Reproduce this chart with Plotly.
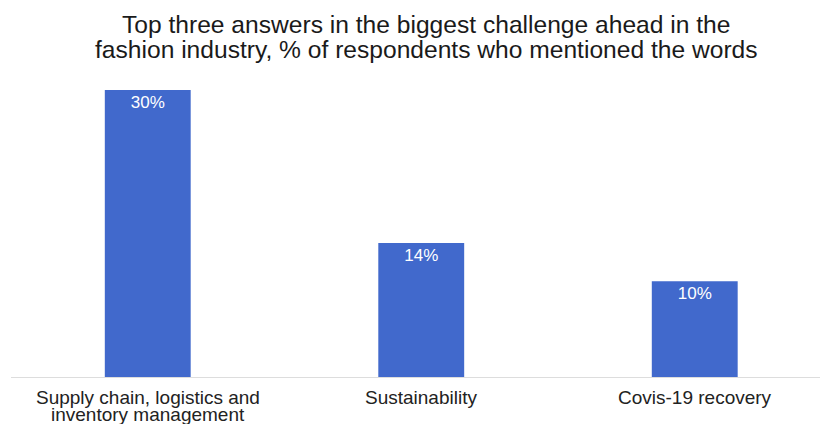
import plotly.graph_objects as go

categories = ["Supply chain, logistics and<br>inventory management", "Sustainability", "Covis-19 recovery"]
values = [30, 14, 10]
labels = ["30%", "14%", "10%"]
title_lines = ["Top three answers in the biggest challenge ahead in the",
               "fashion industry, % of respondents who mentioned the words"]

FONT = "Liberation Sans, Arial, Helvetica, sans-serif"

fig = go.Figure(go.Bar(
    x=categories, y=values, text=labels,
    textposition="inside", insidetextanchor="end",
    textfont=dict(color="white", size=17, family=FONT),
    marker=dict(color="#4169CC", line=dict(width=0)),
    width=0.314, hoverinfo="skip",
))

annotations = []
# title lines (tight line spacing like the reference)
for i, line in enumerate(title_lines):
    annotations.append(dict(
        text=line, xref="paper", yref="paper", x=0.513, y=1,
        xanchor="center", yanchor="middle", yshift=66 - 25 * i,
        showarrow=False, font=dict(size=24.6, color="#1a1a1a", family=FONT),
    ))
# category labels, one annotation per text line
for cat in categories:
    for j, line in enumerate(cat.split("<br>")):
        annotations.append(dict(
            text=line, xref="x", yref="paper", x=cat, y=0,
            xanchor="center", yanchor="middle", yshift=-20 - 17 * j,
            showarrow=False, font=dict(size=19, color="#222222", family=FONT),
        ))

fig.update_layout(
    width=820, height=424,
    margin=dict(l=11, r=0, t=90, b=47),
    paper_bgcolor="white", plot_bgcolor="white",
    font=dict(family=FONT, color="#222222"),
    showlegend=False,
    annotations=annotations,
)
fig.update_xaxes(
    type="category", range=[-0.5, 2.458],
    showline=True, linecolor="#dddddd", linewidth=1,
    showgrid=False, ticks="", showticklabels=False,
)
fig.update_yaxes(range=[0, 30], visible=False, showgrid=False, zeroline=False)

fig.write_html("out.html")
